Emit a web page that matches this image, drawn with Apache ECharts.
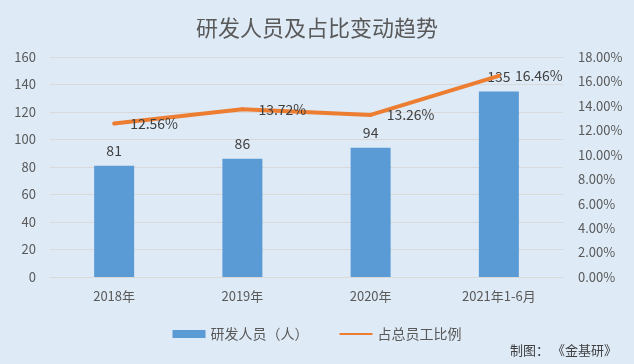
<!DOCTYPE html>
<html><head><meta charset="utf-8">
<script src="https://cdn.jsdelivr.net/npm/echarts@6/dist/echarts.min.js"></script>
<style>html,body{margin:0;padding:0;background:#deeaf6;}#c{width:634px;height:364px;}</style>
</head><body><div id="c"></div>
<script>
const categories = ['2018年', '2019年', '2020年', '2021年1-6月'];
const staffCount = [81, 86, 94, 135];
const staffRatio = [12.56, 13.72, 13.26, 16.46];
const titleText = '研发人员及占比变动趋势';
const seriesNames = ['研发人员（人）', '占总员工比例'];
const sourceText = '制图： 《金基研》';

const font = '"Noto Sans CJK SC", "Liberation Sans", sans-serif';
const chart = echarts.init(document.getElementById('c'));
chart.setOption({
  backgroundColor: '#deeaf6',
  textStyle: { fontFamily: font },
  title: [{
    text: titleText, left: 'center', top: 12,
    textStyle: { fontSize: 22, fontWeight: 'normal', color: '#595959', fontFamily: font }
  }, {
    text: sourceText, right: 17, top: 344, padding: 0,
    textStyle: { fontSize: 13, fontWeight: 'normal', color: '#404040', fontFamily: font }
  }],
  legend: {
    bottom: 18, left: 'center', itemGap: 30, itemWidth: 33, itemHeight: 8,
    textStyle: { fontSize: 14, color: '#595959', fontFamily: font },
    data: [{ name: seriesNames[0], icon: 'rect' },
           { name: seriesNames[1], itemStyle: { color: 'rgba(0,0,0,0)', borderWidth: 0 } }]
  },
  grid: { left: 50, right: 71, top: 57, bottom: 87 },
  xAxis: {
    type: 'category', data: categories,
    axisLine: { lineStyle: { color: '#d9d9d9' } },
    axisTick: { show: false },
    axisLabel: { fontSize: 13, color: '#595959', margin: 13, fontFamily: font }
  },
  yAxis: [{
    type: 'value', min: 0, max: 160, interval: 20,
    axisLabel: { fontSize: 13, color: '#595959', margin: 14, fontFamily: font },
    splitLine: { lineStyle: { color: '#d9d9d9' } },
    axisLine: { show: false }, axisTick: { show: false }
  }, {
    type: 'value', min: 0, max: 18, interval: 2,
    axisLabel: { fontSize: 13, color: '#595959', margin: 15, fontFamily: font,
      formatter: v => v.toFixed(2) + '%' },
    splitLine: { show: false },
    axisLine: { show: false }, axisTick: { show: false }
  }],
  series: [{
    name: seriesNames[0], type: 'bar', data: staffCount, barWidth: 40,
    itemStyle: { color: '#5b9bd5' },
    label: { show: true, position: 'top', distance: 8, fontSize: 14, color: '#404040', fontFamily: font }
  }, {
    name: seriesNames[1], type: 'line', yAxisIndex: 1, data: staffRatio,
    symbol: 'circle', symbolSize: 4, showSymbol: true,
    lineStyle: { color: '#ed7d31', width: 4 }, itemStyle: { color: '#ed7d31' },
    label: { show: true, position: 'right', distance: 14, fontSize: 14, color: '#404040', fontFamily: font,
      formatter: p => p.value.toFixed(2) + '%' }
  }]
});
</script></body></html>
